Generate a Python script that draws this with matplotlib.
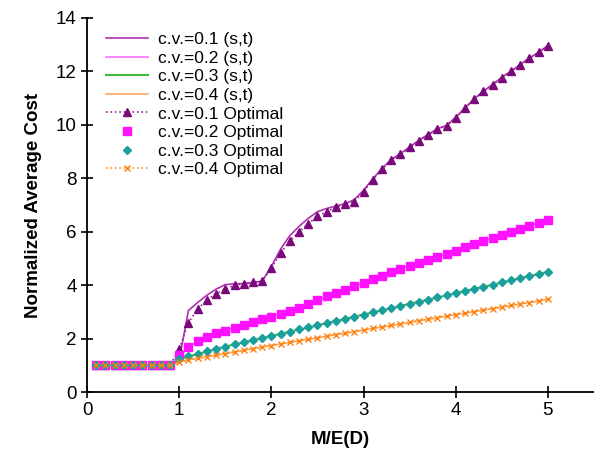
import matplotlib
matplotlib.use("Agg")
import matplotlib.pyplot as plt

plt.rcParams['font.family'] = ['Liberation Sans', 'DejaVu Sans']

# M/E(D) sample points 0.1 .. 5.0
x = [0.1, 0.2, 0.3, 0.4, 0.5, 0.6, 0.7, 0.8, 0.9, 1.0,
     1.1, 1.2, 1.3, 1.4, 1.5, 1.6, 1.7, 1.8, 1.9, 2.0,
     2.1, 2.2, 2.3, 2.4, 2.5, 2.6, 2.7, 2.8, 2.9, 3.0,
     3.1, 3.2, 3.3, 3.4, 3.5, 3.6, 3.7, 3.8, 3.9, 4.0,
     4.1, 4.2, 4.3, 4.4, 4.5, 4.6, 4.7, 4.8, 4.9, 5.0]

# (s,t) policy cost
st_01 = [1.0, 1.0, 1.0, 1.0, 1.0, 1.0, 1.0, 1.0, 1.0, 1.2,
         3.05, 3.35, 3.62, 3.85, 4.02, 4.05, 4.06, 4.1, 4.15, 4.7,
         5.35, 5.85, 6.2, 6.5, 6.75, 6.87, 6.96, 7.05, 7.2, 7.55,
         7.98, 8.36, 8.7, 8.92, 9.17, 9.42, 9.64, 9.85, 9.98, 10.28,
         10.63, 10.97, 11.26, 11.51, 11.78, 12.01, 12.26, 12.5, 12.72, 12.97]
st_02 = [1.0, 1.0, 1.0, 1.0, 1.0, 1.0, 1.0, 1.0, 1.0, 1.3,
         1.7, 1.9, 2.05, 2.2, 2.3, 2.4, 2.5, 2.62, 2.72, 2.82,
         2.92, 3.02, 3.16, 3.3, 3.44, 3.58, 3.7, 3.82, 3.96, 4.08,
         4.22, 4.34, 4.48, 4.6, 4.72, 4.84, 4.94, 5.06, 5.17, 5.29,
         5.41, 5.53, 5.65, 5.76, 5.88, 6.0, 6.1, 6.22, 6.34, 6.45]
st_03 = [1.0, 1.0, 1.0, 1.0, 1.0, 1.0, 1.0, 1.0, 1.0, 1.22,
         1.33, 1.42, 1.52, 1.61, 1.7, 1.78, 1.86, 1.94, 2.02, 2.1,
         2.18, 2.26, 2.34, 2.41, 2.5, 2.58, 2.66, 2.73, 2.82, 2.9,
         2.98, 3.06, 3.13, 3.22, 3.3, 3.38, 3.46, 3.53, 3.62, 3.7,
         3.78, 3.86, 3.94, 4.01, 4.1, 4.18, 4.26, 4.34, 4.42, 4.5]
st_04 = [1.0, 1.0, 1.0, 1.0, 1.0, 1.0, 1.0, 1.0, 1.0, 1.12,
         1.2, 1.26, 1.32, 1.38, 1.44, 1.5, 1.56, 1.62, 1.68, 1.74,
         1.8, 1.86, 1.92, 1.97, 2.03, 2.09, 2.15, 2.2, 2.26, 2.32,
         2.38, 2.43, 2.49, 2.55, 2.61, 2.67, 2.72, 2.78, 2.84, 2.9,
         2.95, 3.01, 3.07, 3.12, 3.18, 3.24, 3.3, 3.35, 3.41, 3.47]

# optimal policy cost
opt_01 = [1.0, 1.0, 1.0, 1.0, 1.0, 1.0, 1.0, 1.0, 1.0, 1.6,
          2.6, 3.1, 3.45, 3.67, 3.85, 4.0, 4.05, 4.1, 4.15, 4.65,
          5.2, 5.65, 6.0, 6.3, 6.57, 6.75, 6.92, 7.03, 7.13, 7.5,
          7.95, 8.34, 8.69, 8.91, 9.16, 9.41, 9.63, 9.84, 9.96, 10.27,
          10.62, 10.96, 11.25, 11.5, 11.77, 12.0, 12.25, 12.5, 12.71, 12.96]
opt_02 = [1.0, 1.0, 1.0, 1.0, 1.0, 1.0, 1.0, 1.0, 1.0, 1.4,
          1.7, 1.9, 2.05, 2.2, 2.3, 2.4, 2.5, 2.62, 2.72, 2.82,
          2.92, 3.02, 3.16, 3.3, 3.44, 3.58, 3.7, 3.82, 3.96, 4.08,
          4.22, 4.34, 4.48, 4.6, 4.72, 4.84, 4.94, 5.06, 5.17, 5.29,
          5.41, 5.53, 5.65, 5.76, 5.88, 6.0, 6.1, 6.22, 6.34, 6.45]
opt_03 = [1.0, 1.0, 1.0, 1.0, 1.0, 1.0, 1.0, 1.0, 1.0, 1.25,
          1.33, 1.42, 1.52, 1.62, 1.7, 1.78, 1.86, 1.94, 2.02, 2.1,
          2.18, 2.26, 2.34, 2.42, 2.5, 2.58, 2.66, 2.74, 2.82, 2.9,
          2.98, 3.06, 3.14, 3.22, 3.3, 3.38, 3.46, 3.54, 3.62, 3.7,
          3.78, 3.86, 3.94, 4.02, 4.1, 4.18, 4.26, 4.34, 4.42, 4.5]
opt_04 = [1.0, 1.0, 1.0, 1.0, 1.0, 1.0, 1.0, 1.0, 1.0, 1.12,
          1.2, 1.26, 1.32, 1.38, 1.44, 1.5, 1.56, 1.62, 1.68, 1.74,
          1.8, 1.86, 1.92, 1.98, 2.03, 2.09, 2.15, 2.2, 2.26, 2.32,
          2.38, 2.44, 2.49, 2.55, 2.61, 2.67, 2.72, 2.78, 2.84, 2.9,
          2.95, 3.01, 3.07, 3.12, 3.18, 3.24, 3.3, 3.35, 3.41, 3.47]

fig = plt.figure(figsize=(5.94, 4.58), dpi=100)
ax = fig.add_axes([0.1465, 0.1441, 0.8535, 0.8166])

ax.plot(x, st_01, color="#b030b0", lw=1.2, label="c.v.=0.1 (s,t)")
ax.plot(x, st_02, color="#ff70ff", lw=1.2, label="c.v.=0.2 (s,t)")
ax.plot(x, st_03, color="#3cb83c", lw=1.5, label="c.v.=0.3 (s,t)")
ax.plot(x, st_04, color="#ffa860", lw=1.2, label="c.v.=0.4 (s,t)")

ax.plot(x, opt_01, color="#a020a0", ls=":", lw=1.2, marker="^", ms=6,
        mfc="#7a0a7a", mec="#7a0a7a", label="c.v.=0.1 Optimal")
ax.plot(x, opt_02, ls="none", marker="s", ms=5.5,
        mfc="#ff10ff", mec="#ff10ff", label="c.v.=0.2 Optimal")
ax.plot(x, opt_03, ls="none", marker="D", ms=4.5,
        mfc="#1a9e9e", mec="#1a9e9e", label="c.v.=0.3 Optimal")
ax.plot(x, opt_04, color="#ff9020", ls=":", lw=1.2, marker="x", ms=4,
        mew=1, mec="#ff8010", label="c.v.=0.4 Optimal")

ax.set_xlim(0, 5.5)
ax.set_ylim(0, 14)
ax.set_xticks([0, 1, 2, 3, 4, 5])
ax.set_yticks([0, 2, 4, 6, 8, 10, 12, 14])
ax.spines["top"].set_visible(False)
ax.spines["right"].set_visible(False)
ax.spines["left"].set_linewidth(1.3)
ax.spines["bottom"].set_linewidth(1.3)
ax.tick_params(direction="inout", length=8, width=1.2, labelsize=13.5)

ax.set_xlabel("M/E(D)", fontsize=13.5, fontweight="bold", labelpad=8)
ax.set_ylabel("Normalized Average Cost", fontsize=13.5, fontweight="bold", labelpad=10)

ax.legend(loc="upper left", bbox_to_anchor=(0.01, 1.0), frameon=False,
          fontsize=12.5, handlelength=2.4, handletextpad=0.6,
          labelspacing=0.2, borderpad=0.3)

fig.savefig("out.png", dpi=100)
